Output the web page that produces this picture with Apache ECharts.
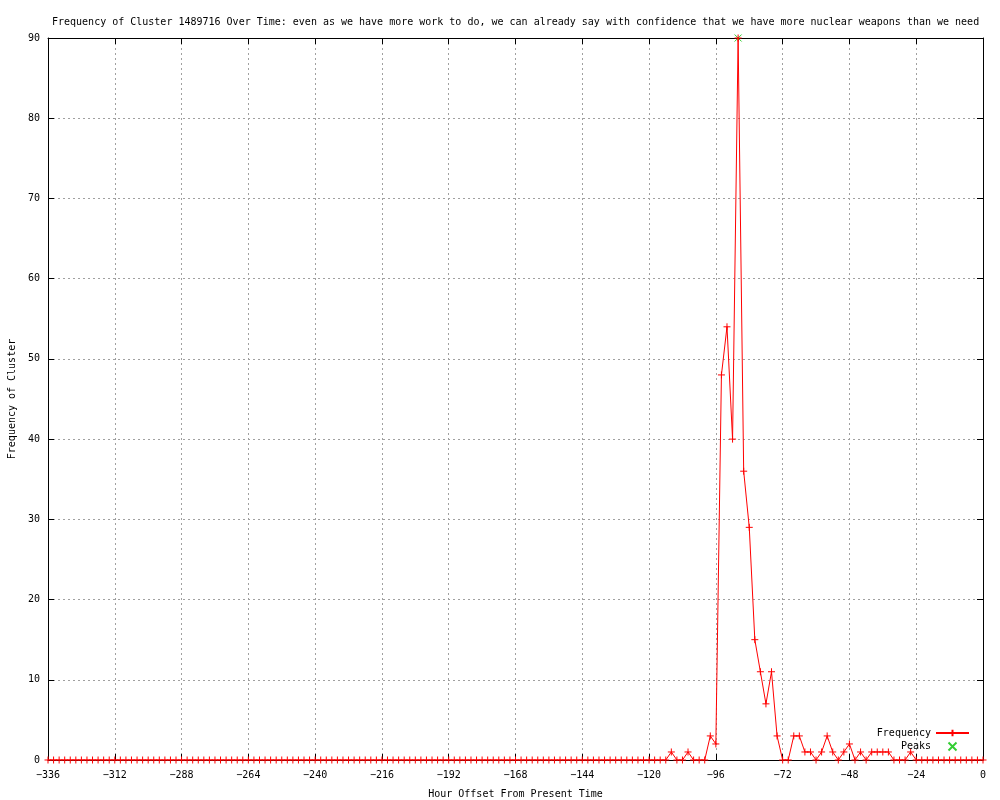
<!DOCTYPE html>
<html>
<head>
<meta charset="utf-8">
<script src="https://cdn.jsdelivr.net/npm/echarts@6/dist/echarts.min.js"></script>
<style>html,body{margin:0;padding:0;background:#fff}#c{width:1000px;height:800px}</style>
</head>
<body>
<div id="c"></div>
<script>
// Two-hour bins from -336 h up to 0 h
const startHour = -336;
const binHours = 2;
// Frequency per bin, each row covers 24 hours
const frequency = [
  0,0,0,0,0,0,0,0,0,0,0,0,      // -336 .. -314
  0,0,0,0,0,0,0,0,0,0,0,0,      // -312 .. -290
  0,0,0,0,0,0,0,0,0,0,0,0,      // -288 .. -266
  0,0,0,0,0,0,0,0,0,0,0,0,      // -264 .. -242
  0,0,0,0,0,0,0,0,0,0,0,0,      // -240 .. -218
  0,0,0,0,0,0,0,0,0,0,0,0,      // -216 .. -194
  0,0,0,0,0,0,0,0,0,0,0,0,      // -192 .. -170
  0,0,0,0,0,0,0,0,0,0,0,0,      // -168 .. -146
  0,0,0,0,0,0,0,0,0,0,0,0,      // -144 .. -122
  0,0,0,0,1,0,0,1,0,0,0,3,      // -120 .. -98
  2,48,54,40,90,36,29,15,11,7,11,3, // -96 .. -74
  0,0,3,3,1,1,0,1,3,1,0,1,      // -72 .. -50
  2,0,1,0,1,1,1,1,0,0,0,1,      // -48 .. -26
  0,0,0,0,0,0,0,0,0,0,0,0,      // -24 .. -2
  0                             // 0
];
const peakHours = [-88];
const peakValues = [90];

const xTickStep = 24;
const yTickStep = 10;

const freqData = frequency.map((v, i) => [startHour + i * binHours, v]);
const peakData = peakHours.map((h, i) => [h, peakValues[i]]);

const FONT = '"DejaVu Sans Mono", "Liberation Mono", monospace';
const plusPath = 'path://M0,-1L0,1M-1,0L1,0';
const crossPath = 'path://M-1,-1L1,1M-1,1L1,-1';

const chart = echarts.init(document.getElementById('c'), null, {renderer: 'canvas'});
chart.setOption({
  animation: false,
  backgroundColor: '#fff',
  title: {
    text: 'Frequency of Cluster 1489716 Over Time: even as we have more work to do, we can already say with confidence that we have more nuclear weapons than we need',
    left: 47, top: 12,
    textStyle: {fontFamily: FONT, fontSize: 10, fontWeight: 'normal', color: '#000'}
  },
  grid: {left: 48, right: 17, top: 38, bottom: 40, show: false, containLabel: false, outerBoundsMode: 'none'},
  legend: {
    orient: 'vertical', right: 25, top: 722, align: 'right',
    itemWidth: 33, itemHeight: 8, itemGap: 1,
    textStyle: {fontFamily: FONT, fontSize: 10, color: '#000', lineHeight: 12},
    data: ['Frequency', 'Peaks']
  },
  xAxis: [{
    type: 'value', min: -336, max: 0, interval: xTickStep,
    name: 'Hour Offset From Present Time', nameLocation: 'middle', nameGap: 29,
    nameTextStyle: {fontFamily: FONT, fontSize: 10, color: '#000'},
    axisLine: {show: true, onZero: false, lineStyle: {color: '#000', width: 1}},
    axisTick: {show: true, inside: true, length: 6, lineStyle: {color: '#000'}},
    axisLabel: {fontFamily: FONT, fontSize: 10, color: '#000', margin: 10, formatter: v => String(v).replace('-', '\u2212')},
    splitLine: {show: true, lineStyle: {color: '#a0a0a0', type: [2, 3], width: 1}}
  }, {
    type: 'value', position: 'top', min: -336, max: 0, interval: xTickStep,
    axisLine: {show: true, onZero: false, lineStyle: {color: '#000', width: 1}},
    axisTick: {show: true, inside: true, length: 6, lineStyle: {color: '#000'}},
    axisLabel: {show: false}, splitLine: {show: false}
  }],
  yAxis: [{
    type: 'value', min: 0, max: 90, interval: yTickStep,
    name: 'Frequency of Cluster', nameLocation: 'middle', nameGap: 30,
    nameTextStyle: {fontFamily: FONT, fontSize: 10, color: '#000'},
    axisLine: {show: true, onZero: false, lineStyle: {color: '#000', width: 1}},
    axisTick: {show: true, inside: true, length: 6, lineStyle: {color: '#000'}},
    axisLabel: {fontFamily: FONT, fontSize: 10, color: '#000', margin: 8},
    splitLine: {show: true, lineStyle: {color: '#a0a0a0', type: [2, 3], width: 1}}
  }, {
    type: 'value', position: 'right', min: 0, max: 90, interval: yTickStep,
    axisLine: {show: true, onZero: false, lineStyle: {color: '#000', width: 1}},
    axisTick: {show: true, inside: true, length: 6, lineStyle: {color: '#000'}},
    axisLabel: {show: false}, splitLine: {show: false}
  }],
  series: [{
    name: 'Frequency', type: 'line', data: freqData,
    xAxisIndex: 0, yAxisIndex: 0,
    symbol: plusPath, symbolSize: 7, showAllSymbol: true,
    lineStyle: {color: '#ff0000', width: 1},
    itemStyle: {color: 'none', borderColor: '#ff0000', borderWidth: 1},
    emphasis: {disabled: true}
  }, {
    name: 'Peaks', type: 'scatter', data: peakData,
    xAxisIndex: 0, yAxisIndex: 0,
    symbol: crossPath, symbolSize: 7,
    itemStyle: {color: 'none', borderColor: '#00c000', borderWidth: 1},
    emphasis: {disabled: true}
  }]
});
</script>
</body>
</html>
